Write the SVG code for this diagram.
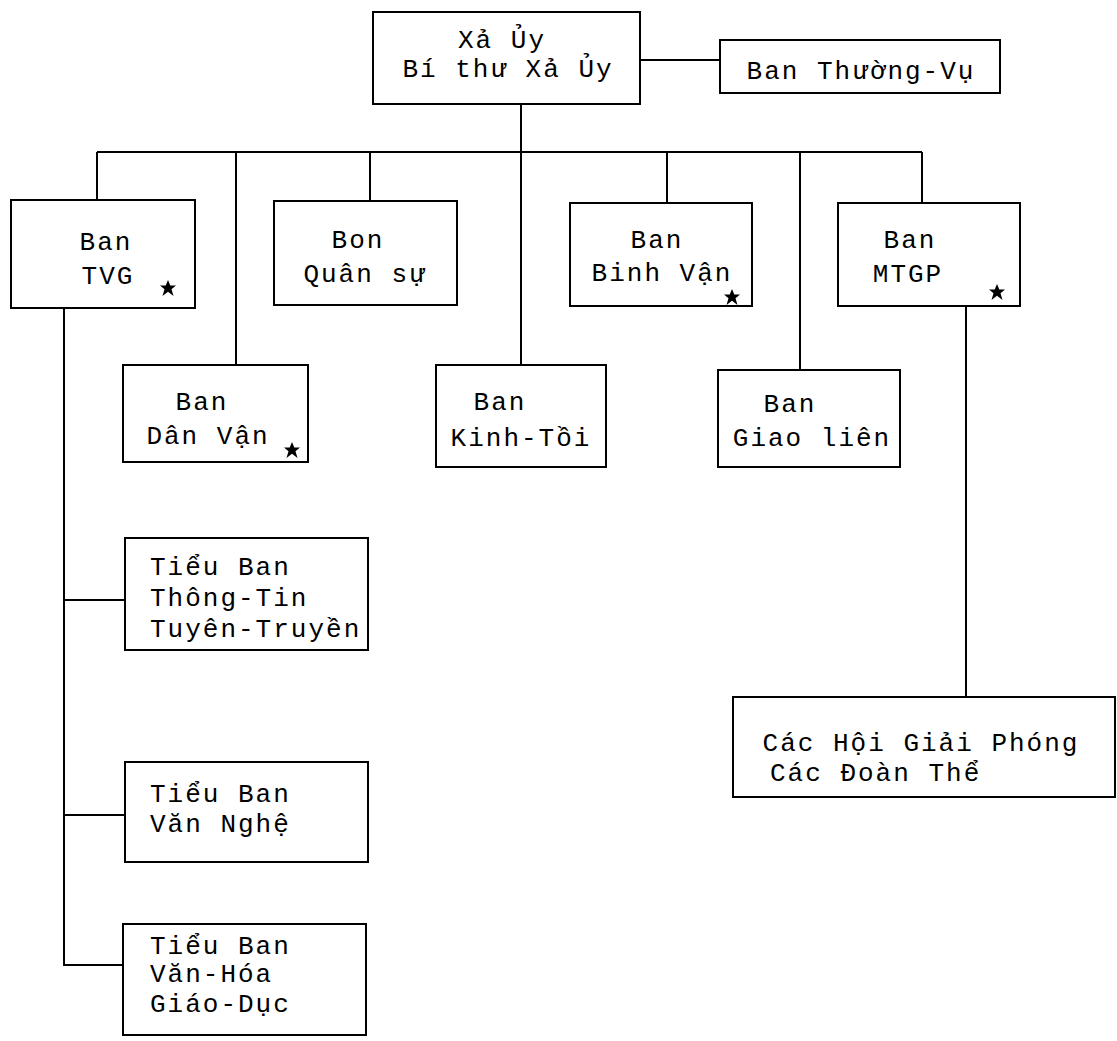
<svg xmlns="http://www.w3.org/2000/svg" width="1117" height="1041" viewBox="0 0 1117 1041">
<style>
.box{fill:#fff;stroke:#000;stroke-width:2}
.ln{stroke:#000;stroke-width:2;fill:none}
text{font-family:"Liberation Mono","DejaVu Sans Mono",monospace;font-size:26px;letter-spacing:2px;fill:#000}
.c{text-anchor:middle}
.star{fill:#000}
</style>
<defs>
<polygon id="star" points="0,-8 2.3,-2.5 8,-2.5 3.5,1.2 5.5,8 0,3.8 -5.5,8 -3.5,1.2 -8,-2.5 -2.3,-2.5"/>
</defs>
<rect width="1117" height="1041" fill="#fff"/>
<g id="connectors">
<path class="ln" d="M640,60 H720"/>
<path class="ln" d="M521,104 V365"/>
<path class="ln" d="M97,152 H922"/>
<path class="ln" d="M97,152 V200"/>
<path class="ln" d="M236,152 V365"/>
<path class="ln" d="M370,152 V201"/>
<path class="ln" d="M667,152 V203"/>
<path class="ln" d="M800,152 V370"/>
<path class="ln" d="M922,152 V203"/>
<path class="ln" d="M64,308 V965 H123"/>
<path class="ln" d="M64,600 H125"/>
<path class="ln" d="M64,815 H125"/>
<path class="ln" d="M966,306 V697"/>
</g>
<g id="xa-uy">
<rect class="box" x="373" y="12" width="267" height="92"/>
<text class="c" x="502" y="48">Xả Ủy</text>
<text class="c" x="508" y="77">Bí thư Xả Ủy</text>
</g>
<g id="thuong-vu">
<rect class="box" x="720" y="40" width="280" height="53"/>
<text class="c" x="861" y="79">Ban Thường-Vụ</text>
</g>
<g id="tvg">
<rect class="box" x="11" y="200" width="184" height="108"/>
<text class="c" x="106" y="250">Ban</text>
<text class="c" x="108" y="284">TVG</text>
<use href="#star" class="star" x="168" y="288"/>
</g>
<g id="quan-su">
<rect class="box" x="274" y="201" width="183" height="104"/>
<text class="c" x="358" y="248">Bon</text>
<text class="c" x="365" y="282">Quân sự</text>
</g>
<g id="binh-van">
<rect class="box" x="570" y="203" width="182" height="103"/>
<text class="c" x="657" y="248">Ban</text>
<text class="c" x="662" y="281">Binh Vận</text>
<use href="#star" class="star" x="732" y="297"/>
</g>
<g id="mtgp">
<rect class="box" x="838" y="203" width="182" height="103"/>
<text class="c" x="910" y="248">Ban</text>
<text class="c" x="908" y="282">MTGP</text>
<use href="#star" class="star" x="997" y="292"/>
</g>
<g id="dan-van">
<rect class="box" x="123" y="365" width="185" height="97"/>
<text class="c" x="202" y="410">Ban</text>
<text class="c" x="208" y="444">Dân Vận</text>
<use href="#star" class="star" x="292" y="450"/>
</g>
<g id="kinh-toi">
<rect class="box" x="436" y="365" width="170" height="102"/>
<text class="c" x="500" y="410">Ban</text>
<text class="c" x="521" y="446">Kinh-Tồi</text>
</g>
<g id="giao-lien">
<rect class="box" x="718" y="370" width="182" height="97"/>
<text class="c" x="790" y="412">Ban</text>
<text class="c" x="812" y="446">Giao liên</text>
</g>
<g id="thong-tin">
<rect class="box" x="125" y="538" width="243" height="112"/>
<text x="150" y="575">Tiểu Ban</text>
<text x="150" y="606">Thông-Tin</text>
<text x="150" y="637">Tuyên-Truyền</text>
</g>
<g id="van-nghe">
<rect class="box" x="125" y="762" width="243" height="100"/>
<text x="150" y="802">Tiểu Ban</text>
<text x="150" y="832">Văn Nghệ</text>
</g>
<g id="van-hoa">
<rect class="box" x="123" y="924" width="243" height="111"/>
<text x="150" y="954">Tiểu Ban</text>
<text x="150" y="982">Văn-Hóa</text>
<text x="150" y="1012">Giáo-Dục</text>
</g>
<g id="cac-hoi">
<rect class="box" x="733" y="697" width="382" height="100"/>
<text class="c" x="921" y="751">Các Hội Giải Phóng</text>
<text x="770" y="781">Các Đoàn Thể</text>
</g>
</svg>
